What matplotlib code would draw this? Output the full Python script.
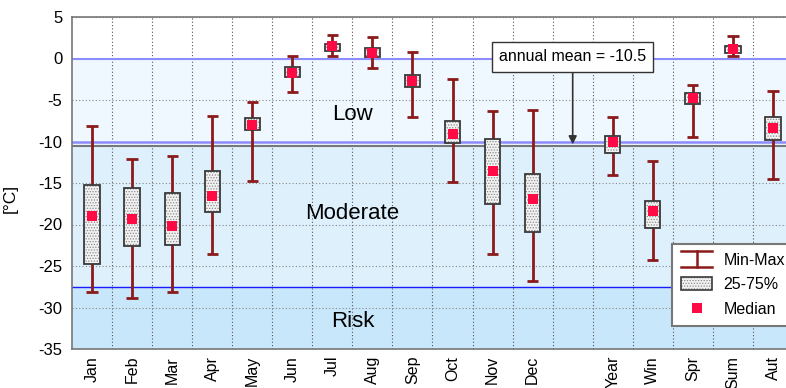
import matplotlib
matplotlib.use("Agg")
import matplotlib.pyplot as plt
from matplotlib.patches import Rectangle
from matplotlib.lines import Line2D
from matplotlib.legend_handler import HandlerBase
import numpy as np

plt.rcParams['font.family'] = ['Liberation Sans', 'DejaVu Sans']
plt.rcParams['hatch.linewidth'] = 0.6
plt.rcParams['axes.unicode_minus'] = False

# ---- data ----
labels = ["Jan", "Feb", "Mar", "Apr", "May", "Jun", "Jul", "Aug", "Sep", "Oct", "Nov", "Dec",
          "", "Year", "Win", "Spr", "Sum", "Aut"]
positions = [1, 2, 3, 4, 5, 6, 7, 8, 9, 10, 11, 12, 14, 15, 16, 17, 18]
box_labels = ["Jan", "Feb", "Mar", "Apr", "May", "Jun", "Jul", "Aug", "Sep", "Oct", "Nov", "Dec",
              "Year", "Win", "Spr", "Sum", "Aut"]
vmax = [-8.1, -12.15, -11.8, -6.9, -5.2, 0.3, 2.78, 2.65, 0.77, -2.53, -6.35, -6.2,
        -7.1, -12.3, -3.14, 2.7, -3.86]
q75 = [-15.2, -15.65, -16.2, -13.5, -7.2, -1.0, 1.7, 1.3, -1.97, -7.56, -9.7, -13.9,
       -9.3, -17.2, -4.2, 1.45, -7.1]
median = [-19.0, -19.3, -20.15, -16.6, -8.05, -1.8, 1.5, 0.7, -2.7, -9.05, -13.6, -16.9,
          -10.1, -18.35, -4.8, 1.09, -8.4]
q25 = [-24.7, -22.6, -22.5, -18.5, -8.6, -2.25, 0.9, 0.2, -3.46, -10.2, -17.5, -20.9,
       -11.4, -20.4, -5.47, 0.69, -9.8]
vmin = [-28.1, -28.8, -28.1, -23.5, -14.7, -4.07, 0.36, -1.2, -7.04, -14.9, -23.6, -26.75,
        -14.0, -24.25, -9.4, 0.36, -14.5]
annual_mean = -10.5
low_limit = -10.0
risk_limit = -27.5

whisk_c = "#8b1a1a"
med_c = "#ff0a45"
box_edge = "#3a3a3a"

fig = plt.figure(figsize=(7.86, 3.88), dpi=100)
ax = fig.add_axes([72/786, 39/388, (793-72)/786, (349-17)/388])

# bands
ax.axhspan(0, 5, color="white", zorder=0)
ax.axhspan(annual_mean, 0, color="#eff8fe", zorder=0)
ax.axhspan(risk_limit, annual_mean, color="#def0fc", zorder=0)
ax.axhspan(-35, risk_limit, color="#c9e7fb", zorder=0)

ax.set_xlim(0.5, 18.5)
ax.set_ylim(-35, 5)
ax.set_yticks(np.arange(-35, 6, 5))
ax.set_xticks(np.arange(1, 19))
ax.set_xticklabels(labels, rotation=90, fontsize=11.5)
ax.tick_params(axis='y', labelsize=12, length=0, pad=7)
ax.tick_params(axis='x', length=0, pad=5)
ax.set_xticks(np.arange(1.5, 18.5, 1), minor=True)
ax.tick_params(which='minor', length=0)
ax.grid(True, which='minor', axis='x', color="#555555", linestyle=(0, (1, 2)), linewidth=0.8, zorder=1)
ax.grid(True, which='major', axis='y', color="#888888", linestyle=(0, (1, 2)), linewidth=0.8, zorder=1)
ax.grid(False, which='major', axis='x')
ax.set_axisbelow(True)
for s in ax.spines.values():
    s.set_color("#777777")
    s.set_linewidth(1.2)

ax.axhline(0, color="#8c8cff", lw=1.5, zorder=2)
ax.axhline(low_limit, color="#8c8cff", lw=1.8, zorder=2)
ax.axhline(annual_mean, color="#777777", lw=1.5, zorder=2)
ax.axhline(risk_limit, color="#1a1aff", lw=1.0, zorder=2)

ax.set_ylabel("[°C]", fontsize=12.5)
ax.yaxis.set_label_coords(-0.075, 0.452)

bw = 0.38
cw = 0.28
for x, mx, a, m, b, mn in zip(positions, vmax, q75, median, q25, vmin):
    ax.vlines(x, mn, mx, color=whisk_c, lw=2, zorder=3)
    ax.hlines([mn, mx], x - cw/2, x + cw/2, color=whisk_c, lw=2, zorder=3)
    ax.add_patch(Rectangle((x - bw/2, b), bw, a - b, facecolor="#f2f2f2",
                           edgecolor="#8a8a8a", hatch="......", lw=0, zorder=4))
    ax.add_patch(Rectangle((x - bw/2, b), bw, a - b, facecolor="none",
                           edgecolor=box_edge, lw=1.3, zorder=5))
ax.plot(positions, median, linestyle="none", marker="s", markersize=6.5,
        color=med_c, markeredgewidth=0, zorder=6)

ax.text(7.5, -6.8, "Low", ha="center", va="center", fontsize=16)
ax.text(7.5, -18.7, "Moderate", ha="center", va="center", fontsize=16)
ax.text(7.5, -31.7, "Risk", ha="center", va="center", fontsize=16)

ax.annotate("annual mean = -10.5", xy=(13, annual_mean + 0.15), xytext=(13, 0.2),
            ha="center", va="center", fontsize=11.5, zorder=8,
            bbox=dict(boxstyle="square,pad=0.45", fc="white", ec="#333333", lw=1),
            arrowprops=dict(arrowstyle="-|>", color="#333333", lw=1.2,
                            mutation_scale=12, shrinkA=0, shrinkB=0))


class HandlerMinMax(HandlerBase):
    def create_artists(self, legend, orig_handle, xdescent, ydescent, width, height, fontsize, trans):
        x0, x1 = -xdescent, -xdescent + width
        xc = (x0 + x1) / 2
        y0, y1 = -ydescent - 1, -ydescent + height + 1
        l1 = Line2D([x0, x1], [y1, y1], color=whisk_c, lw=1.8, transform=trans)
        l2 = Line2D([x0, x1], [y0, y0], color=whisk_c, lw=1.8, transform=trans)
        l3 = Line2D([xc, xc], [y0, y1], color=whisk_c, lw=1.8, transform=trans)
        return [l1, l2, l3]


class HandlerBox(HandlerBase):
    def create_artists(self, legend, orig_handle, xdescent, ydescent, width, height, fontsize, trans):
        r1 = Rectangle((-xdescent, -ydescent), width, height, facecolor="#f2f2f2",
                       edgecolor="#8a8a8a", hatch="......", lw=0, transform=trans)
        r2 = Rectangle((-xdescent, -ydescent), width, height, facecolor="none",
                       edgecolor=box_edge, lw=1.2, transform=trans)
        return [r1, r2]


h_mm = Line2D([], [])
h_box = Rectangle((0, 0), 1, 1)
h_med = Line2D([], [], linestyle="none", marker="s", markersize=6.5, color=med_c, markeredgewidth=0)
leg = ax.legend([h_mm, h_box, h_med], ["Min-Max", "25-75%", "Median"],
                handler_map={h_mm: HandlerMinMax(), h_box: HandlerBox()},
                loc="lower left", bbox_to_anchor=(15.49, -32.2), bbox_transform=ax.transData,
                fontsize=11.5, frameon=True, fancybox=False, framealpha=1,
                edgecolor="#777777", handlelength=1.95, handleheight=0.9,
                labelspacing=0.6, borderpad=0.55, handletextpad=0.7, borderaxespad=0)
leg.get_frame().set_linewidth(1.5)
leg.set_zorder(10)

fig.savefig("out.png", dpi=100)
